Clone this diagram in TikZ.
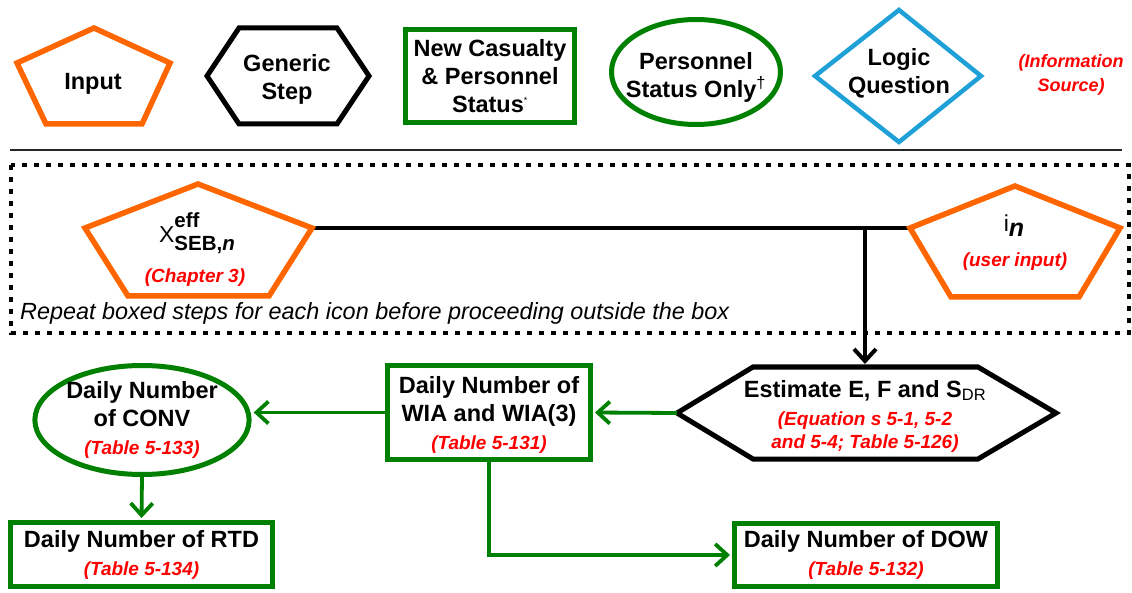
\documentclass[tikz,border=0pt]{standalone}
\usepackage{fontspec}
\setmainfont{Liberation Sans}
\usetikzlibrary{arrows.meta,shapes.geometric,calc}
\definecolor{cOrange}{RGB}{255,102,0}
\definecolor{cGreen}{RGB}{0,128,0}
\definecolor{cBlue}{RGB}{31,160,214}
\definecolor{cRed}{RGB}{255,0,0}
\newcommand\mainf{\fontsize{23.5}{28}\selectfont\bfseries}
\newcommand\redsz{\fontsize{19}{24}\selectfont\bfseries\itshape}
\newcommand\redc{\color{cRed}\redsz}
\begin{document}
\begin{tikzpicture}[x=1pt,y=-1pt,
  inputshape/.style={draw=cOrange, line width=5.5pt},
  stepshape/.style={draw=black, line width=5pt},
  logicshape/.style={draw=cBlue, line width=4.5pt},
  greenbox/.style={draw=cGreen, line width=5pt, rectangle, inner sep=0pt, align=center, font=\mainf},
  greenell/.style={draw=cGreen, line width=5pt, ellipse, inner sep=0pt, align=center, font=\mainf},
  lbl/.style={align=center, font=\mainf, inner sep=0pt},
  redlbl/.style={align=center, font=\redsz, text=cRed, inner sep=0pt},
  garrow/.style={draw=cGreen, line width=3.8pt, shorten >=2pt, -{Straight Barb[length=12pt,width=22pt]}},
  barrow/.style={draw=black, line width=4pt, -{Straight Barb[length=12pt,width=22pt]}},
  blackline/.style={draw=black, line width=4pt}
]
\useasboundingbox (0,0) rectangle (1132,593);

% ---------- legend ----------
\draw[inputshape] (94,28) -- (170,63) -- (142,124) -- (46,124) -- (17,63) -- cycle;
\node[lbl] (linput) at (93,84) {Input};

\draw[stepshape] (207,76) -- (239,28) -- (337,28) -- (369,76) -- (337,124) -- (239,124) -- cycle;
\node[lbl] (lstep) at (287,79) {Generic\\Step};

\node[greenbox, minimum width=169pt, minimum height=93pt] (lnew) at (490,76)
  {New Casualty\\\& Personnel\\Status\textsuperscript{\mdseries\fontsize{9}{9}\selectfont *}};

\node[greenell, minimum width=169pt, minimum height=105pt] (lpers) at (696,72) {};
\node[lbl] (lperstxt) at (696,77) {Personnel\\Status Only\textsuperscript{\mdseries †}};

\draw[logicshape] (815,76) -- (899,10) -- (981,76) -- (899,142) -- cycle;
\node[lbl] (llogic) at (899,73) {Logic\\Question};

\node[redlbl, font=\fontsize{18}{24}\selectfont\bfseries\itshape] (linfo) at (1071,75) {(Information\\Source)};

% separator
\draw[line width=2pt, black!85] (10,150) -- (1122,150);

% ---------- repeat box ----------
\draw[line width=4.5pt, dash pattern=on 5pt off 7pt] (11,165) rectangle (1129,333);
\node[anchor=base west, inner sep=0pt, font=\fontsize{23.4}{27}\selectfont\itshape] (rep) at (20,320)
  {Repeat boxed steps for each icon before proceeding outside the box};

% connectors inside box
\coordinate (xr) at (312,228);
\coordinate (il) at (910,228);
\coordinate (jn) at (865,228);
\coordinate (esttop) at (865,364);
\coordinate (estl) at (677,413);
\draw[blackline] (xr) -- (il);
\draw[barrow] (jn) -- (esttop);

\draw[inputshape] (198,184) -- (xr) -- (269,296) -- (128,296) -- (85,228) -- cycle;
\node[anchor=base, inner sep=0pt] (xtxt) at (197,243)
  {{\fontsize{23}{26}\selectfont X}\rlap{\raisebox{15pt}{\fontsize{20.5}{24}\selectfont\bfseries eff}}\raisebox{-8pt}{\fontsize{20.5}{24}\selectfont\bfseries SEB,\textit{n}}};
\node[redlbl] (xsrc) at (195,278) {(Chapter 3)};

\draw[inputshape] (1015,186) -- (1120,228) -- (1079,297) -- (951,297) -- (il) -- cycle;
\node[anchor=base, inner sep=0pt] (itxt) at (1014,232)
  {{\fontsize{23}{26}\selectfont i}\raisebox{-5pt}{\fontsize{25}{30}\selectfont\bfseries\itshape n}};
\node[redlbl] (isrc) at (1015,262) {(user input)};

% ---------- lower flow ----------
\draw[stepshape] (estl) -- (753,367) -- (978,367) -- (1056,413) -- (978,459) -- (753,459) -- cycle;
\node[lbl] (esttxt) at (865,416)
  {Estimate E, F and S\textsubscript{\mdseries DR}\\{\redc (Equation s 5-1, 5-2}\\[-5pt]{\redc and 5-4; Table 5-126)}};

\node[greenbox, minimum width=203pt, minimum height=94pt] (wia) at (489,412.5) {};
\node[lbl] (wiatxt) at (489,415)
  {Daily Number of\\WIA and WIA(3)\\{\redc (Table 5-131)}};

\node[greenell, minimum width=213pt, minimum height=109pt] (conv) at (142,420)
  {Daily Number\\of CONV\\{\redc (Table 5-133)}};

\node[greenbox, minimum width=262pt, minimum height=64pt] (rtd) at (141.5,554.5)
  {Daily Number of RTD\\{\redc (Table 5-134)}};

\node[greenbox, minimum width=263pt, minimum height=63pt] (dow) at (866,555)
  {Daily Number of DOW\\{\redc (Table 5-132)}};

\draw[garrow] (estl) -- (wia.east);
\draw[garrow] (wia.west) -- (wia.west -| conv.east);
\draw[garrow] (conv.south) -- (rtd.north);
\draw[garrow] (wia.south) |- (dow.west);
\end{tikzpicture}
\end{document}
